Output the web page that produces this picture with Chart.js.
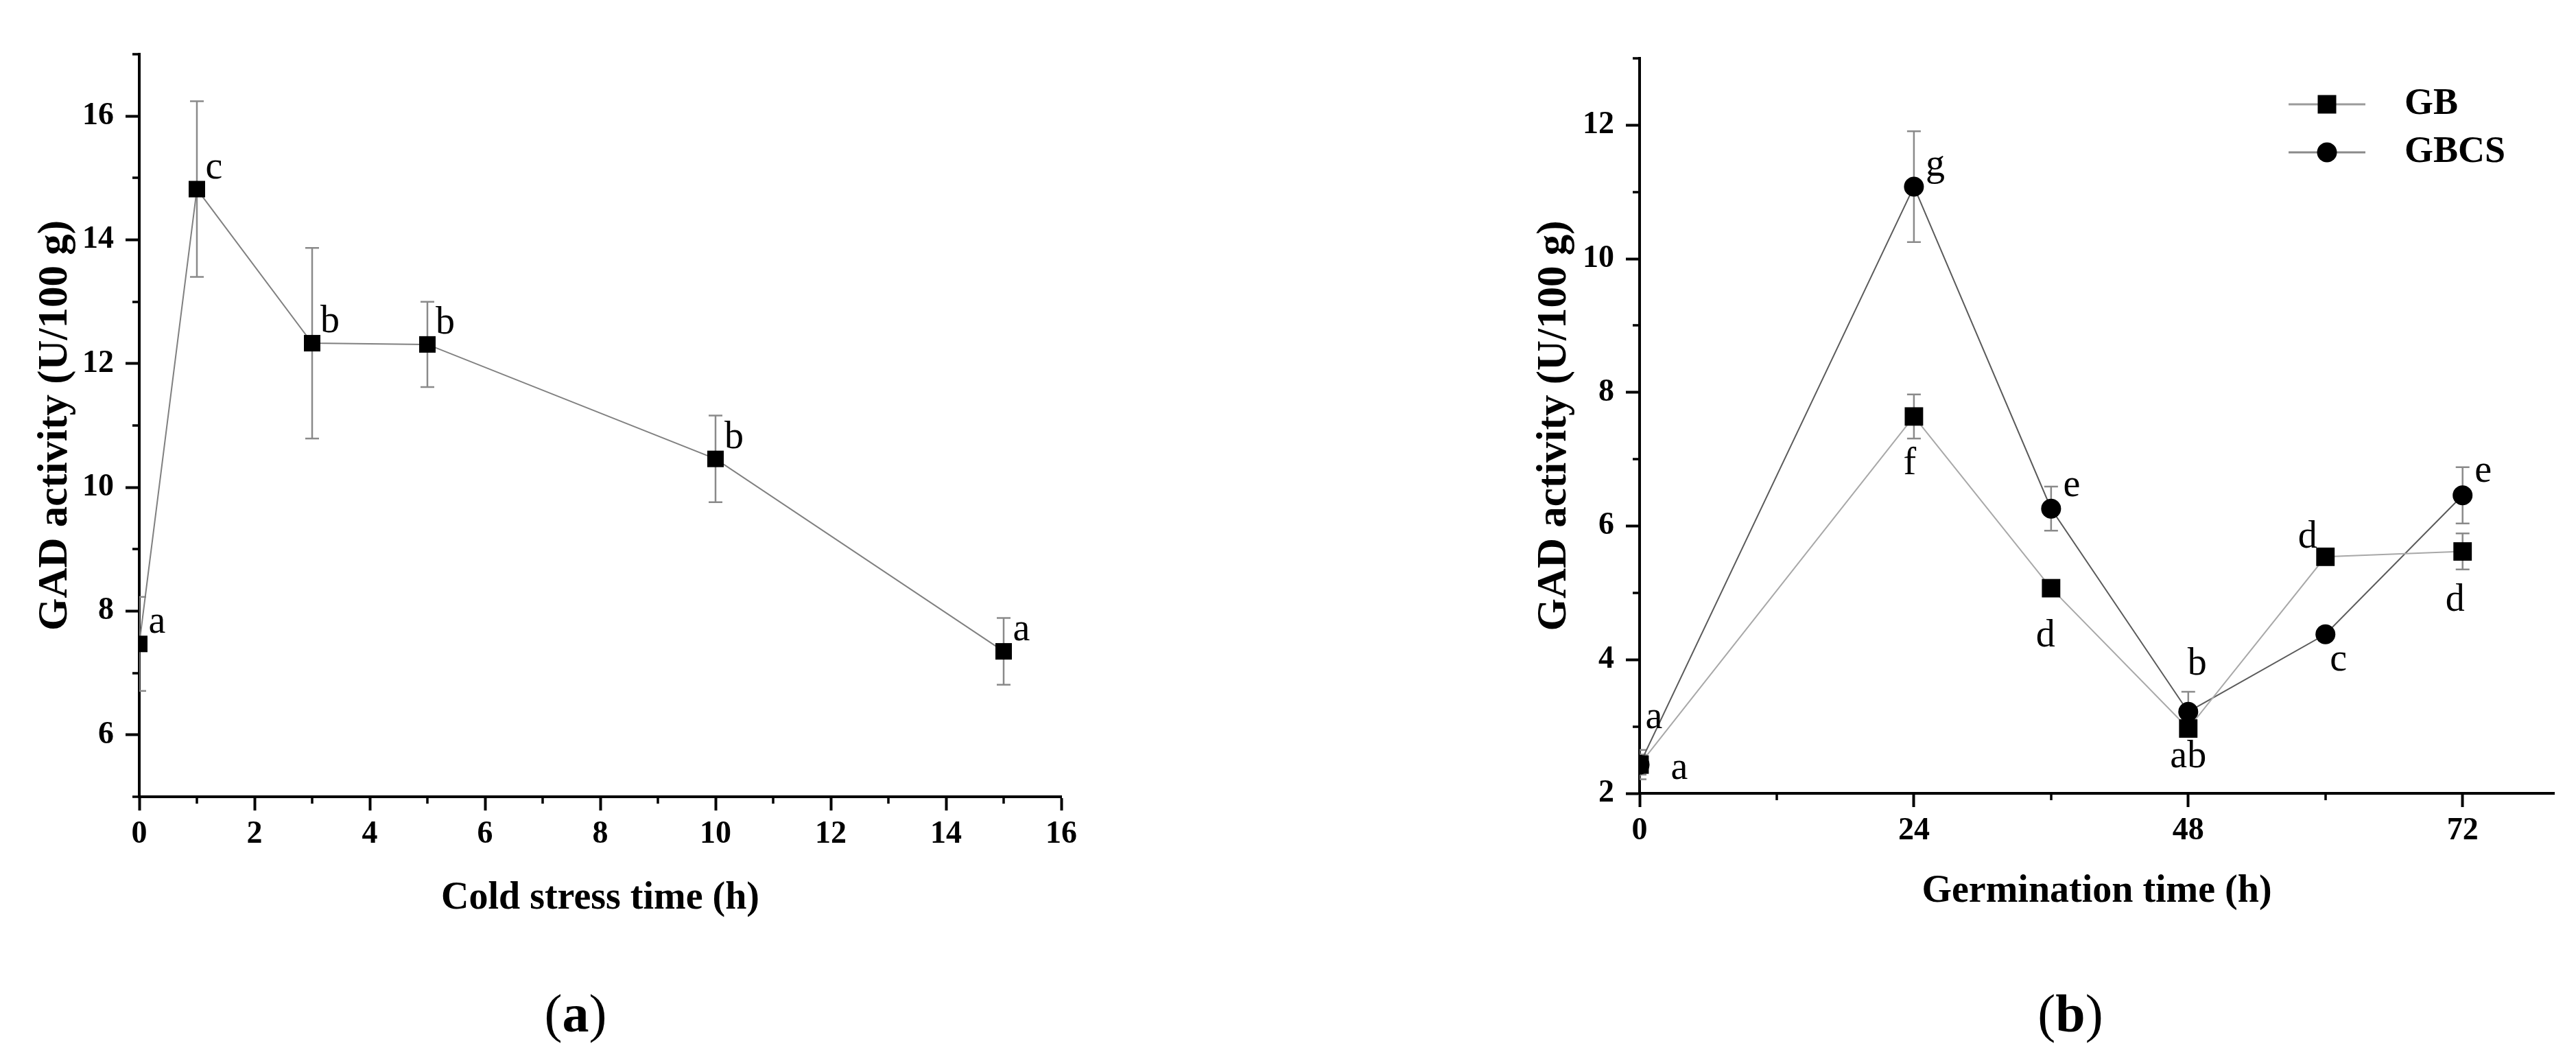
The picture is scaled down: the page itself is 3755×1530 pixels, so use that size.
<!DOCTYPE html>
<html>
<head>
<meta charset="utf-8">
<script src="https://cdn.jsdelivr.net/npm/chart.js@4.4.0/dist/chart.umd.min.js"></script>
<style>
  html, body { margin: 0; padding: 0; background: #fff; width: 3755px; height: 1530px; overflow: hidden; }
  body { position: relative; }
  canvas { position: absolute; top: 0; }
  #ca { left: 0; }
  #cb { left: 2100px; }
  .cap { position: absolute; width: 200px; text-align: center; top: 1438px; font-family: "Liberation Serif", serif; font-size: 78px; line-height: 1; color: #000; }
</style>
</head>
<body>
<canvas id="ca" width="1700" height="1400"></canvas>
<canvas id="cb" width="1655" height="1400"></canvas>
<div class="cap" style="left:739px">(<b>a</b>)</div>
<div class="cap" style="left:2918px">(<b>b</b>)</div>
<script>
// ---------------- data: panel (a) cold stress ----------------
const coldTime    = [0, 1, 3, 5, 10, 15];
const coldGAD     = [7.47, 14.82, 12.33, 12.31, 10.46, 7.35];
const coldErr     = [0.76, 1.42, 1.54, 0.69, 0.70, 0.54];
const coldLetters = ['a', 'c', 'b', 'b', 'b', 'a'];
const coldXTicks  = [0, 2, 4, 6, 8, 10, 12, 14, 16];
const coldXMinor  = [1, 3, 5, 7, 9, 11, 13, 15];
const coldYTicks  = [6, 8, 10, 12, 14, 16];
const coldYMinor  = [5, 7, 9, 11, 13, 15, 17];

// ---------------- data: panel (b) germination ----------------
const germTime     = [0, 24, 36, 48, 60, 72];
const gbGAD        = [2.43, 7.64, 5.07, 2.97, 5.54, 5.62];
const gbErr        = [0.15, 0.33, 0.08, 0.08, 0.12, 0.27];
const gbLetters    = ['a', 'f', 'd', 'ab', 'd', 'd'];
const gbcsGAD      = [2.43, 11.08, 6.26, 3.22, 4.38, 6.46];
const gbcsErr      = [0.22, 0.83, 0.33, 0.30, 0.10, 0.42];
const gbcsLetters  = ['a', 'g', 'e', 'b', 'c', 'e'];
const germXTicks   = [0, 24, 48, 72];
const germXMinor   = [12, 36, 60];
const germYTicks   = [2, 4, 6, 8, 10, 12];
const germYMinor   = [3, 5, 7, 9, 11, 13];
const seriesNames  = ['GB', 'GBCS'];

// ---------------- helpers ----------------
const SERIF = "'Liberation Serif', 'Times New Roman', serif";
const pts = (xs, ys) => xs.map((x, i) => ({ x: x, y: ys[i] }));

function errorBarPlugin(errors, color, width, cap) {
  return {
    id: 'errorBars',
    beforeDatasetsDraw(chart) {
      const { ctx, chartArea: a, scales: { x, y } } = chart;
      ctx.save();
      ctx.beginPath();
      ctx.rect(a.left, a.top, a.right - a.left, a.bottom - a.top);
      ctx.clip();
      ctx.strokeStyle = color;
      ctx.lineWidth = width;
      chart.data.datasets.forEach((ds, di) => {
        ds.data.forEach((p, i) => {
          const e = errors[di][i];
          const px = x.getPixelForValue(p.x);
          const t = y.getPixelForValue(p.y + e);
          const b = y.getPixelForValue(p.y - e);
          ctx.beginPath();
          ctx.moveTo(px, t); ctx.lineTo(px, b);
          ctx.moveTo(px - cap, t); ctx.lineTo(px + cap, t);
          ctx.moveTo(px - cap, b); ctx.lineTo(px + cap, b);
          ctx.stroke();
        });
      });
      ctx.restore();
    }
  };
}

function minorTickPlugin(xMinor, yMinor, len, width) {
  return {
    id: 'minorTicks',
    afterDraw(chart) {
      const { ctx, scales: { x, y } } = chart;
      ctx.save();
      ctx.strokeStyle = '#000';
      ctx.lineWidth = width;
      xMinor.forEach(v => {
        const px = Math.round(x.getPixelForValue(v));
        ctx.beginPath(); ctx.moveTo(px, x.top); ctx.lineTo(px, x.top + len); ctx.stroke();
      });
      yMinor.forEach(v => {
        const py = Math.round(y.getPixelForValue(v));
        ctx.beginPath(); ctx.moveTo(y.right, py); ctx.lineTo(y.right - len, py); ctx.stroke();
      });
      ctx.restore();
    }
  };
}

function letterPlugin(letters, offsets, font) {
  return {
    id: 'letters',
    afterDatasetsDraw(chart) {
      const { ctx, scales: { x, y } } = chart;
      ctx.save();
      ctx.font = font;
      ctx.fillStyle = '#000';
      ctx.textAlign = 'center';
      ctx.textBaseline = 'alphabetic';
      chart.data.datasets.forEach((ds, di) => {
        ds.data.forEach((p, i) => {
          const o = offsets[di][i];
          ctx.fillText(letters[di][i], x.getPixelForValue(p.x) + o[0], y.getPixelForValue(p.y) + o[1]);
        });
      });
      ctx.restore();
    }
  };
}

function axisCommon(ticksArr, min, max, titleText, titleSize, titlePad, tickPad, fitFn) {
  return {
    type: 'linear', min: min, max: max,
    afterBuildTicks: s => { s.ticks = ticksArr.map(v => ({ value: v })); },
    afterFit: fitFn,
    ticks: {
      autoSkip: false, maxRotation: 0, padding: tickPad, color: '#000',
      font: { family: SERIF, weight: 'bold', size: 46 },
      callback: v => String(v)
    },
    grid: { display: true, drawOnChartArea: false, drawTicks: true, tickLength: 20, tickWidth: 4, tickColor: '#000' },
    border: { display: true, color: '#000', width: 4 },
    title: { display: true, text: titleText, color: '#000', padding: titlePad,
             font: { family: SERIF, weight: 'bold', size: titleSize } }
  };
}

// ---------------- panel (a) ----------------
new Chart(document.getElementById('ca'), {
  type: 'line',
  data: {
    datasets: [{
      label: 'Cold stress',
      data: pts(coldTime, coldGAD),
      borderColor: '#808080', borderWidth: 2, tension: 0,
      pointStyle: 'rect', pointRadius: 17, pointHoverRadius: 17,
      pointBackgroundColor: '#000', pointBorderColor: '#000', pointBorderWidth: 0
    }]
  },
  options: {
    responsive: false, animation: false, devicePixelRatio: 1,
    layout: { padding: { left: 0, top: 79, right: 153, bottom: 0 } },
    plugins: { legend: { display: false }, tooltip: { enabled: false } },
    scales: {
      x: axisCommon(coldXTicks, 0, 16, 'Cold stress time (h)', 56, { top: 0, bottom: 57 }, 8, s => { s.height = 239; }),
      y: axisCommon(coldYTicks, 5, 17, 'GAD activity (U/100 g)', 61, { top: 45, bottom: 0 }, 17, s => { s.width = 203; })
    }
  },
  plugins: [
    errorBarPlugin([coldErr], '#8a8a8a', 2.5, 10),
    minorTickPlugin(coldXMinor, coldYMinor, 10, 3.5),
    letterPlugin([coldLetters], [[[26, -16], [25, -16], [26, -16], [26, -16], [27, -16], [26, -16]]], "56px " + SERIF)
  ]
});

// ---------------- panel (b) ----------------
function legendIcon(style, color) {
  const c = document.createElement('canvas');
  c.width = 112; c.height = 32;
  const g = c.getContext('2d');
  g.strokeStyle = color; g.lineWidth = 3;
  g.beginPath(); g.moveTo(0, 16); g.lineTo(112, 16); g.stroke();
  g.fillStyle = '#000';
  if (style === 'rect') { g.fillRect(56 - 13.5, 16 - 13.5, 27, 27); }
  else { g.beginPath(); g.arc(56, 16, 14.5, 0, Math.PI * 2); g.fill(); }
  return c;
}
const icons = [legendIcon('rect', '#9a9a9a'), legendIcon('circle', '#8a8a8a')];

const legendPlace = {
  id: 'legendPlace',
  beforeDraw(chart) {
    const lg = chart.legend;
    if (!lg) return;
    const L = 1190, T = 109;
    lg.left = L; lg.top = T; lg.right = L + lg.width; lg.bottom = T + 600;
  }
};

new Chart(document.getElementById('cb'), {
  type: 'line',
  data: {
    datasets: [{
      label: seriesNames[0],
      data: pts(germTime, gbGAD),
      borderColor: '#a8a8a8', borderWidth: 2, tension: 0,
      pointStyle: 'rect', pointRadius: 19, pointHoverRadius: 19,
      pointBackgroundColor: '#000', pointBorderColor: '#000', pointBorderWidth: 0
    }, {
      label: seriesNames[1],
      data: pts(germTime, gbcsGAD),
      borderColor: '#5a5a5a', borderWidth: 2, tension: 0,
      pointStyle: 'circle', pointRadius: 14.5, pointHoverRadius: 14.5,
      pointBackgroundColor: '#000', pointBorderColor: '#000', pointBorderWidth: 0
    }]
  },
  options: {
    responsive: false, animation: false, devicePixelRatio: 1,
    layout: { padding: { left: 0, top: 85, right: 32, bottom: 0 } },
    plugins: {
      tooltip: { enabled: false },
      legend: {
        display: true, position: 'chartArea', align: 'start',
        labels: {
          usePointStyle: true, pointStyleWidth: 172, padding: 16, color: '#000',
          font: { family: SERIF, weight: 'bold', size: 54 },
          generateLabels(chart) {
            const items = Chart.defaults.plugins.legend.labels.generateLabels(chart);
            items.forEach((it, i) => { it.pointStyle = icons[i]; });
            return items;
          }
        }
      }
    },
    scales: {
      x: axisCommon(germXTicks, 0, 80, 'Germination time (h)', 56, { top: 0, bottom: 67 }, 8, s => { s.height = 244; }),
      y: axisCommon(germYTicks, 2, 13, 'GAD activity (U/100 g)', 61, { top: 130, bottom: 0 }, 17, s => { s.width = 290; })
    }
  },
  plugins: [
    legendPlace,
    errorBarPlugin([gbErr, gbcsErr], '#8a8a8a', 2.5, 10),
    minorTickPlugin(germXMinor, germYMinor, 10, 3.5),
    letterPlugin([gbLetters, gbcsLetters], [
      [[58, 21], [-6, 84], [-8, 85], [0, 56], [-26, -13], [-11, 86]],
      [[21, -53], [31, -16], [30, -18], [13, -54], [19, 53], [30, -20]]
    ], "56px " + SERIF)
  ]
});
</script>
</body>
</html>
